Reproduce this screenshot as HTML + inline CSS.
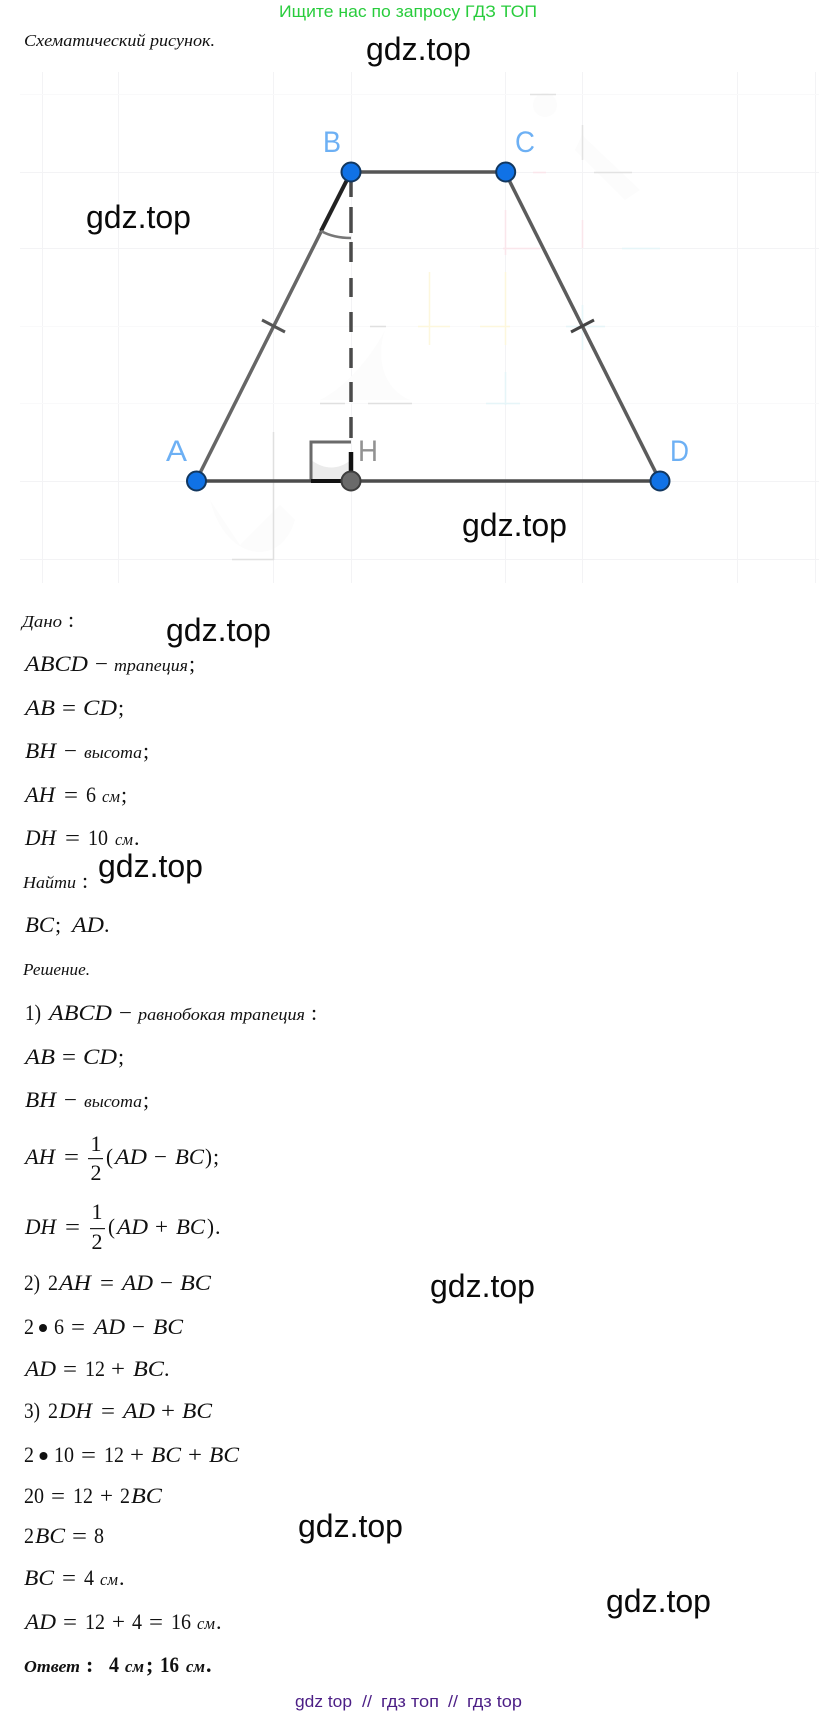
<!DOCTYPE html>
<html lang="ru"><head><meta charset="utf-8"><title>gdz.top</title>
<style>
html,body{margin:0;padding:0;background:#fff}
svg{display:block}
text{font-family:"Liberation Serif","Noto Serif CJK SC",serif;fill:#111}
.m{font-style:italic;font-size:22px}
.r{font-size:22px}
.s{font-style:italic;font-size:17px}
.b{font-weight:bold}
.w{font-family:"Liberation Sans",sans-serif;font-size:32px;fill:#0a0a0a}
.l{font-family:"Liberation Sans",sans-serif;font-size:30px;fill:#6db0f4}
.f{font-family:"Liberation Sans",sans-serif;font-size:17px}
.p{fill:#4c1f86}
</style></head><body>
<svg xmlns="http://www.w3.org/2000/svg" width="819" height="1715" viewBox="0 0 819 1715">
<rect width="819" height="1715" fill="#fff"/>

<!-- grid -->
<g stroke="#f3f3f5" stroke-width="1">
<path d="M42.500 72V583M118.500 72V583M273.500 72V583M351.500 72V583M505.500 72V583M582.500 72V583M737.500 72V583M815.500 72V583"/>
<path d="M20 172.500H819M20 248.500H819M20 481.500H819M20 559.500H819"/>
</g>
<g stroke="#f9f9fa" stroke-width="1"><path d="M20 94.500H819M20 326.500H819M20 403.500H819"/></g>

<!-- faint artefacts -->
<g fill="#fcfcfc">
<path d="M210 500C225 560 280 570 295 520L280 505L240 545Z"/>
<path d="M320 400C350 385 375 350 385 330C375 360 385 390 410 400Z"/>
<path d="M582 135L640 190L625 200L575 150Z"/>
<ellipse cx="545" cy="105" rx="12" ry="12"/>
</g>
<g fill="none" stroke-width="1.500">
<path d="M273.500 432V560M232 559.500H274M320 403.500H345M368 403.500H412M370 326.500H386" stroke="#e0e0e0"/>
<path d="M530 94.500H556M582.500 125V160M594 172.500H632" stroke="#e2e2e2"/>
<path d="M503 248.500H540M505.500 210V255M582.500 220V248M435 172.500H462M533 172.500H546" stroke="#fae6eb"/>
<path d="M429.500 272V345M505.500 272V345M418 326.500H450M480 326.500H510" stroke="#fdf7dd"/>
<path d="M582.500 305V350M566 326.500H605M505.500 372V405M486 403.500H520M622 248.500H660" stroke="#e6f5f8"/>
</g>

<!-- right-angle mark -->
<path d="M311 481V460C325 470 338 470 351 460V481Z" fill="#ebebeb"/>
<path d="M311 481V442H351" fill="none" stroke="#6a6a6a" stroke-width="3"/>

<!-- segments -->
<g fill="none" stroke-linecap="butt">
<path d="M196 481L351 172" stroke="#666" stroke-width="3.500"/>
<path d="M321 231L351 172" stroke="#222" stroke-width="4"/>
<path d="M351 172H505" stroke="#555" stroke-width="3.500"/>
<path d="M505 172L660 481" stroke="#5c5c5c" stroke-width="3.500"/>
<path d="M196 481H660" stroke="#4c4c4c" stroke-width="3.500"/>
<path d="M311 481H351" stroke="#111" stroke-width="4"/>
<path d="M351 172V197M351 207V233M351 242V262M351 278V297M351 312V332M351 348V368M351 382V402M351 417V438" stroke="#4a4a4a" stroke-width="3.500"/>
<path d="M351 452V481" stroke="#111" stroke-width="4.500"/>
<path d="M321 231C330 236 340 238 351 238" stroke="#777" stroke-width="2.500"/>
<path d="M262 320L285 332" stroke="#555" stroke-width="3"/>
<path d="M571 332L594 320" stroke="#444" stroke-width="3"/>
</g>
<g stroke-width="2">
<circle cx="196.500" cy="481" r="9.500" fill="#1072e6" stroke="#12375f"/>
<circle cx="351" cy="172" r="9.500" fill="#1072e6" stroke="#12375f"/>
<circle cx="505.700" cy="172" r="9.500" fill="#1072e6" stroke="#12375f"/>
<circle cx="660" cy="481" r="9.500" fill="#1072e6" stroke="#12375f"/>
<circle cx="351" cy="481" r="9.500" fill="#6a6a6a" stroke="#3d3d3d"/>
</g>
<text class="l" x="323" y="152" textLength="18" lengthAdjust="spacingAndGlyphs">B</text>
<text class="l" x="515" y="152" textLength="20" lengthAdjust="spacingAndGlyphs">C</text>
<text class="l" x="166" y="461" textLength="21" lengthAdjust="spacingAndGlyphs">A</text>
<text class="l" x="358" y="461" textLength="20" lengthAdjust="spacingAndGlyphs" style="fill:#929292">H</text>
<text class="l" x="670" y="461" textLength="19" lengthAdjust="spacingAndGlyphs">D</text>

<!-- header / footer -->
<text class="f" x="279" y="17" textLength="258" lengthAdjust="spacingAndGlyphs" style="fill:#28cc3c">Ищите нас по запросу ГДЗ ТОП</text>
<text class="f p" x="295" y="1707" textLength="57" lengthAdjust="spacingAndGlyphs">gdz top</text>
<text class="f p" x="362" y="1707" textLength="10" lengthAdjust="spacingAndGlyphs">//</text>
<text class="f p" x="381" y="1707" textLength="58" lengthAdjust="spacingAndGlyphs">гдз топ</text>
<text class="f p" x="448" y="1707" textLength="10" lengthAdjust="spacingAndGlyphs">//</text>
<text class="f p" x="467" y="1707" textLength="55" lengthAdjust="spacingAndGlyphs">гдз top</text>

<!-- watermarks -->
<text class="w" x="366" y="60">gdz.top</text>
<text class="w" x="86" y="228">gdz.top</text>
<text class="w" x="462" y="536">gdz.top</text>
<text class="w" x="166" y="641">gdz.top</text>
<text class="w" x="98" y="877">gdz.top</text>
<text class="w" x="430" y="1297">gdz.top</text>
<text class="w" x="298" y="1537">gdz.top</text>
<text class="w" x="606" y="1612">gdz.top</text>

<!-- text -->
<text class="s" x="24" y="46" textLength="191" lengthAdjust="spacingAndGlyphs">Схематический рисунок.</text>

<text class="s" x="22" y="627" textLength="40" lengthAdjust="spacingAndGlyphs">Дано</text><text class="r" x="68" y="627">:</text>

<text class="m" x="25" y="671" textLength="63" lengthAdjust="spacingAndGlyphs">ABCD</text><text class="r" x="95" y="671" textLength="13" lengthAdjust="spacingAndGlyphs">−</text><text class="s" x="114" y="671" textLength="74" lengthAdjust="spacingAndGlyphs">трапеция</text><text class="r" x="189" y="671">;</text>

<text class="m" x="25" y="715" textLength="30" lengthAdjust="spacingAndGlyphs">AB</text><text class="r" x="62" y="715" textLength="14" lengthAdjust="spacingAndGlyphs">=</text><text class="m" x="83" y="715" textLength="34" lengthAdjust="spacingAndGlyphs">CD</text><text class="r" x="118" y="715">;</text>

<text class="m" x="25" y="758" textLength="31" lengthAdjust="spacingAndGlyphs">BH</text><text class="r" x="64" y="758" textLength="13" lengthAdjust="spacingAndGlyphs">−</text><text class="s" x="84" y="758" textLength="58" lengthAdjust="spacingAndGlyphs">высота</text><text class="r" x="143" y="758">;</text>

<text class="m" x="25" y="802" textLength="30" lengthAdjust="spacingAndGlyphs">AH</text><text class="r" x="64" y="802" textLength="14" lengthAdjust="spacingAndGlyphs">=</text><text class="r" x="86" y="802" textLength="10" lengthAdjust="spacingAndGlyphs">6</text><text class="s" x="102" y="802" textLength="18" lengthAdjust="spacingAndGlyphs">см</text><text class="r" x="121" y="802">;</text>

<text class="m" x="25" y="845" textLength="31" lengthAdjust="spacingAndGlyphs">DH</text><text class="r" x="65" y="845" textLength="15" lengthAdjust="spacingAndGlyphs">=</text><text class="r" x="88" y="845" textLength="20" lengthAdjust="spacingAndGlyphs">10</text><text class="s" x="115" y="845" textLength="18" lengthAdjust="spacingAndGlyphs">см</text><text class="r" x="134" y="845">.</text>

<text class="s" x="23" y="888" textLength="53" lengthAdjust="spacingAndGlyphs">Найти</text><text class="r" x="82" y="888">:</text>

<text class="m" x="25" y="932" textLength="29" lengthAdjust="spacingAndGlyphs">BC</text><text class="r" x="55" y="932">;</text><text class="m" x="72" y="932" textLength="32" lengthAdjust="spacingAndGlyphs">AD</text><text class="r" x="104" y="932">.</text>

<text class="s" x="23" y="975" textLength="67" lengthAdjust="spacingAndGlyphs">Решение.</text>

<text class="r" x="25" y="1020" textLength="16" lengthAdjust="spacingAndGlyphs">1)</text><text class="m" x="49" y="1020" textLength="63" lengthAdjust="spacingAndGlyphs">ABCD</text><text class="r" x="119" y="1020" textLength="13" lengthAdjust="spacingAndGlyphs">−</text><text class="s" x="138" y="1020" textLength="167" lengthAdjust="spacingAndGlyphs">равнобокая трапеция</text><text class="r" x="311" y="1020">:</text>

<text class="m" x="25" y="1064" textLength="30" lengthAdjust="spacingAndGlyphs">AB</text><text class="r" x="62" y="1064" textLength="14" lengthAdjust="spacingAndGlyphs">=</text><text class="m" x="83" y="1064" textLength="34" lengthAdjust="spacingAndGlyphs">CD</text><text class="r" x="118" y="1064">;</text>

<text class="m" x="25" y="1107" textLength="31" lengthAdjust="spacingAndGlyphs">BH</text><text class="r" x="64" y="1107" textLength="13" lengthAdjust="spacingAndGlyphs">−</text><text class="s" x="84" y="1107" textLength="58" lengthAdjust="spacingAndGlyphs">высота</text><text class="r" x="143" y="1107">;</text>

<text class="m" x="25" y="1164" textLength="30" lengthAdjust="spacingAndGlyphs">AH</text><text class="r" x="64" y="1164" textLength="15" lengthAdjust="spacingAndGlyphs">=</text>
<text class="r" x="96" y="1151" text-anchor="middle">1</text><rect x="88" y="1158" width="15" height="1.200" fill="#222"/><text class="r" x="96" y="1180" text-anchor="middle">2</text>
<text class="r" x="106" y="1164" textLength="7" lengthAdjust="spacingAndGlyphs">(</text><text class="m" x="115" y="1164" textLength="32" lengthAdjust="spacingAndGlyphs">AD</text><text class="r" x="154" y="1164" textLength="13" lengthAdjust="spacingAndGlyphs">−</text><text class="m" x="175" y="1164" textLength="29" lengthAdjust="spacingAndGlyphs">BC</text><text class="r" x="205" y="1164" textLength="7" lengthAdjust="spacingAndGlyphs">)</text><text class="r" x="213" y="1164">;</text>

<text class="m" x="25" y="1234" textLength="31" lengthAdjust="spacingAndGlyphs">DH</text><text class="r" x="65" y="1234" textLength="15" lengthAdjust="spacingAndGlyphs">=</text>
<text class="r" x="97" y="1219" text-anchor="middle">1</text><rect x="90" y="1228" width="15" height="1.200" fill="#222"/><text class="r" x="97" y="1249" text-anchor="middle">2</text>
<text class="r" x="108" y="1234" textLength="7" lengthAdjust="spacingAndGlyphs">(</text><text class="m" x="117" y="1234" textLength="31" lengthAdjust="spacingAndGlyphs">AD</text><text class="r" x="155" y="1234" textLength="13" lengthAdjust="spacingAndGlyphs">+</text><text class="m" x="176" y="1234" textLength="29" lengthAdjust="spacingAndGlyphs">BC</text><text class="r" x="207" y="1234" textLength="7" lengthAdjust="spacingAndGlyphs">)</text><text class="r" x="215" y="1234">.</text>

<text class="r" x="24" y="1290" textLength="16" lengthAdjust="spacingAndGlyphs">2)</text><text class="r" x="48" y="1290" textLength="10" lengthAdjust="spacingAndGlyphs">2</text><text class="m" x="59" y="1290" textLength="32" lengthAdjust="spacingAndGlyphs">AH</text><text class="r" x="100" y="1290" textLength="14" lengthAdjust="spacingAndGlyphs">=</text><text class="m" x="122" y="1290" textLength="31" lengthAdjust="spacingAndGlyphs">AD</text><text class="r" x="160" y="1290" textLength="13" lengthAdjust="spacingAndGlyphs">−</text><text class="m" x="180" y="1290" textLength="31" lengthAdjust="spacingAndGlyphs">BC</text>

<text class="r" x="24" y="1334" textLength="10" lengthAdjust="spacingAndGlyphs">2</text><circle cx="43" cy="1328" r="4" fill="#111"/><text class="r" x="54" y="1334" textLength="10" lengthAdjust="spacingAndGlyphs">6</text><text class="r" x="71" y="1334" textLength="14" lengthAdjust="spacingAndGlyphs">=</text><text class="m" x="94" y="1334" textLength="31" lengthAdjust="spacingAndGlyphs">AD</text><text class="r" x="132" y="1334" textLength="13" lengthAdjust="spacingAndGlyphs">−</text><text class="m" x="153" y="1334" textLength="30" lengthAdjust="spacingAndGlyphs">BC</text>

<text class="m" x="25" y="1376" textLength="31" lengthAdjust="spacingAndGlyphs">AD</text><text class="r" x="63" y="1376" textLength="14" lengthAdjust="spacingAndGlyphs">=</text><text class="r" x="85" y="1376" textLength="20" lengthAdjust="spacingAndGlyphs">12</text><text class="r" x="111" y="1376" textLength="14" lengthAdjust="spacingAndGlyphs">+</text><text class="m" x="133" y="1376" textLength="31" lengthAdjust="spacingAndGlyphs">BC</text><text class="r" x="164" y="1376">.</text>

<text class="r" x="24" y="1418" textLength="16" lengthAdjust="spacingAndGlyphs">3)</text><text class="r" x="48" y="1418" textLength="10" lengthAdjust="spacingAndGlyphs">2</text><text class="m" x="59" y="1418" textLength="33" lengthAdjust="spacingAndGlyphs">DH</text><text class="r" x="101" y="1418" textLength="14" lengthAdjust="spacingAndGlyphs">=</text><text class="m" x="123" y="1418" textLength="32" lengthAdjust="spacingAndGlyphs">AD</text><text class="r" x="161" y="1418" textLength="14" lengthAdjust="spacingAndGlyphs">+</text><text class="m" x="182" y="1418" textLength="30" lengthAdjust="spacingAndGlyphs">BC</text>

<text class="r" x="24" y="1462" textLength="10" lengthAdjust="spacingAndGlyphs">2</text><circle cx="43.500" cy="1456" r="4" fill="#111"/><text class="r" x="54" y="1462" textLength="20" lengthAdjust="spacingAndGlyphs">10</text><text class="r" x="81" y="1462" textLength="15" lengthAdjust="spacingAndGlyphs">=</text><text class="r" x="104" y="1462" textLength="20" lengthAdjust="spacingAndGlyphs">12</text><text class="r" x="130" y="1462" textLength="14" lengthAdjust="spacingAndGlyphs">+</text><text class="m" x="151" y="1462" textLength="30" lengthAdjust="spacingAndGlyphs">BC</text><text class="r" x="188" y="1462" textLength="14" lengthAdjust="spacingAndGlyphs">+</text><text class="m" x="209" y="1462" textLength="30" lengthAdjust="spacingAndGlyphs">BC</text>

<text class="r" x="24" y="1503" textLength="20" lengthAdjust="spacingAndGlyphs">20</text><text class="r" x="51" y="1503" textLength="14" lengthAdjust="spacingAndGlyphs">=</text><text class="r" x="73" y="1503" textLength="20" lengthAdjust="spacingAndGlyphs">12</text><text class="r" x="100" y="1503" textLength="13" lengthAdjust="spacingAndGlyphs">+</text><text class="r" x="120" y="1503" textLength="10" lengthAdjust="spacingAndGlyphs">2</text><text class="m" x="131" y="1503" textLength="31" lengthAdjust="spacingAndGlyphs">BC</text>

<text class="r" x="24" y="1543" textLength="10" lengthAdjust="spacingAndGlyphs">2</text><text class="m" x="35" y="1543" textLength="30" lengthAdjust="spacingAndGlyphs">BC</text><text class="r" x="72" y="1543" textLength="15" lengthAdjust="spacingAndGlyphs">=</text><text class="r" x="94" y="1543" textLength="10" lengthAdjust="spacingAndGlyphs">8</text>

<text class="m" x="24" y="1585" textLength="30" lengthAdjust="spacingAndGlyphs">BC</text><text class="r" x="62" y="1585" textLength="14" lengthAdjust="spacingAndGlyphs">=</text><text class="r" x="84" y="1585" textLength="10" lengthAdjust="spacingAndGlyphs">4</text><text class="s" x="100" y="1585" textLength="18" lengthAdjust="spacingAndGlyphs">см</text><text class="r" x="119" y="1585">.</text>

<text class="m" x="25" y="1629" textLength="31" lengthAdjust="spacingAndGlyphs">AD</text><text class="r" x="63" y="1629" textLength="14" lengthAdjust="spacingAndGlyphs">=</text><text class="r" x="85" y="1629" textLength="20" lengthAdjust="spacingAndGlyphs">12</text><text class="r" x="112" y="1629" textLength="13" lengthAdjust="spacingAndGlyphs">+</text><text class="r" x="132" y="1629" textLength="10" lengthAdjust="spacingAndGlyphs">4</text><text class="r" x="149" y="1629" textLength="14" lengthAdjust="spacingAndGlyphs">=</text><text class="r" x="171" y="1629" textLength="20" lengthAdjust="spacingAndGlyphs">16</text><text class="s" x="197" y="1629" textLength="18" lengthAdjust="spacingAndGlyphs">см</text><text class="r" x="216" y="1629">.</text>

<text class="s b" x="24" y="1672" textLength="56" lengthAdjust="spacingAndGlyphs">Ответ</text><text class="r b" x="86" y="1672">:</text><text class="r b" x="109" y="1672" textLength="10" lengthAdjust="spacingAndGlyphs">4</text><text class="s b" x="125" y="1672" textLength="19" lengthAdjust="spacingAndGlyphs">см</text><text class="r b" x="146" y="1672">;</text><text class="r b" x="160" y="1672" textLength="19" lengthAdjust="spacingAndGlyphs">16</text><text class="s b" x="186" y="1672" textLength="19" lengthAdjust="spacingAndGlyphs">см</text><text class="r b" x="206" y="1672">.</text>
</svg>
</body></html>
